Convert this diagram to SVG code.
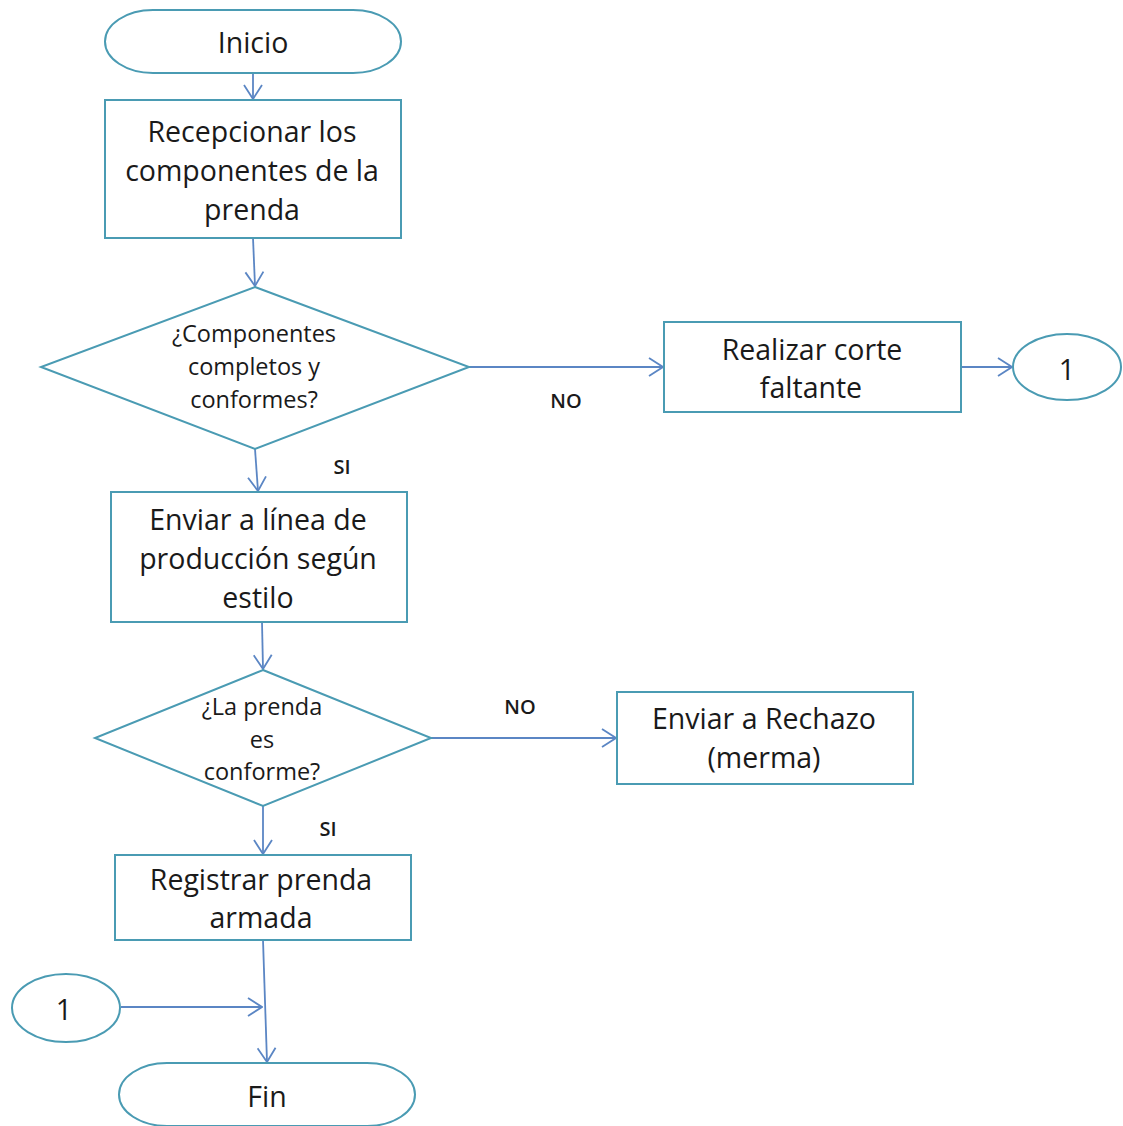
<svg xmlns="http://www.w3.org/2000/svg" width="1123" height="1126" viewBox="0 0 1123 1126">
  <style>
    .shape { fill: #ffffff; stroke: #4a9bb3; stroke-width: 2; }
    .conn { fill: none; stroke: #5b86c4; stroke-width: 1.8; }
    .t { font-family: "Open Sans", Lato, "Liberation Sans", sans-serif; fill: #1a1a1a; text-anchor: middle; dominant-baseline: central; }
    .big { font-size: 28.5px; }
    .mid { font-size: 23.5px; }
    .lab { font-size: 20px; font-weight: 600; }
  </style>
  <defs>
    <marker id="open" viewBox="0 0 16 20" refX="15" refY="10" markerWidth="16" markerHeight="20" markerUnits="userSpaceOnUse" orient="auto">
      <path d="M1,1 L15,10 L1,19" fill="none" stroke="#5b86c4" stroke-width="1.8"/>
    </marker>
  </defs>

  <rect width="1123" height="1126" fill="#ffffff"/>

  <!-- connectors -->
  <g id="connectors">
    <line class="conn" x1="253" y1="73" x2="253" y2="99" marker-end="url(#open)"/>
    <line class="conn" x1="253" y1="238" x2="255" y2="286" marker-end="url(#open)"/>
    <line class="conn" x1="469" y1="367" x2="663" y2="367" marker-end="url(#open)"/>
    <line class="conn" x1="961" y1="367" x2="1012" y2="367" marker-end="url(#open)"/>
    <line class="conn" x1="255" y1="449" x2="258" y2="491" marker-end="url(#open)"/>
    <line class="conn" x1="262" y1="622" x2="263" y2="669" marker-end="url(#open)"/>
    <line class="conn" x1="431" y1="738" x2="616" y2="738" marker-end="url(#open)"/>
    <line class="conn" x1="263" y1="806" x2="263" y2="854" marker-end="url(#open)"/>
    <line class="conn" x1="263" y1="940" x2="267" y2="1062" marker-end="url(#open)"/>
    <line class="conn" x1="121" y1="1007" x2="262" y2="1007" marker-end="url(#open)"/>
    <text class="t lab" x="566" y="400">NO</text>
    <text class="t lab" x="342" y="466">SI</text>
    <text class="t lab" x="520" y="706">NO</text>
    <text class="t lab" x="328" y="828">SI</text>
  </g>

  <g id="inicio">
    <rect class="shape" x="105" y="10" width="296" height="63" rx="48" ry="31.5"/>
    <text class="t big" x="253" y="42">Inicio</text>
  </g>

  <g id="recepcionar">
    <rect class="shape" x="105" y="100" width="296" height="138"/>
    <text class="t big" x="252" y="131">Recepcionar los</text>
    <text class="t big" x="252" y="170">componentes  de la</text>
    <text class="t big" x="252" y="209">prenda</text>
  </g>

  <g id="decision-componentes">
    <polygon class="shape" points="255,287 469,367 255,449 41,367"/>
    <text class="t mid" x="254" y="333">¿Componentes</text>
    <text class="t mid" x="254" y="366">completos y</text>
    <text class="t mid" x="254" y="399">conformes?</text>
  </g>

  <g id="realizar-corte">
    <rect class="shape" x="664" y="322" width="297" height="90"/>
    <text class="t big" x="812" y="349">Realizar corte</text>
    <text class="t big" x="811" y="387">faltante</text>
  </g>

  <g id="conector-salida">
    <ellipse class="shape" cx="1067" cy="367" rx="54" ry="33"/>
    <text class="t big" x="1067" y="369">1</text>
  </g>

  <g id="enviar-linea">
    <rect class="shape" x="111" y="492" width="296" height="130"/>
    <text class="t big" x="258" y="519">Enviar a línea de</text>
    <text class="t big" x="258" y="558">producción  según</text>
    <text class="t big" x="258" y="597">estilo</text>
  </g>

  <g id="decision-conforme">
    <polygon class="shape" points="263,670 431,738 263,806 95,738"/>
    <text class="t mid" x="262" y="706">¿La prenda</text>
    <text class="t mid" x="262" y="739">es</text>
    <text class="t mid" x="262" y="771">conforme?</text>
  </g>

  <g id="enviar-rechazo">
    <rect class="shape" x="617" y="692" width="296" height="92"/>
    <text class="t big" x="764" y="718">Enviar a Rechazo</text>
    <text class="t big" x="764" y="757">(merma)</text>
  </g>

  <g id="registrar">
    <rect class="shape" x="115" y="855" width="296" height="85"/>
    <text class="t big" x="261" y="879">Registrar prenda</text>
    <text class="t big" x="261" y="917">armada</text>
  </g>

  <g id="conector-entrada">
    <ellipse class="shape" cx="66" cy="1008" rx="54" ry="34"/>
    <text class="t big" x="64" y="1009">1</text>
  </g>

  <g id="fin">
    <rect class="shape" x="119" y="1063" width="296" height="63" rx="48" ry="31.5"/>
    <text class="t big" x="267" y="1096">Fin</text>
  </g>
</svg>
